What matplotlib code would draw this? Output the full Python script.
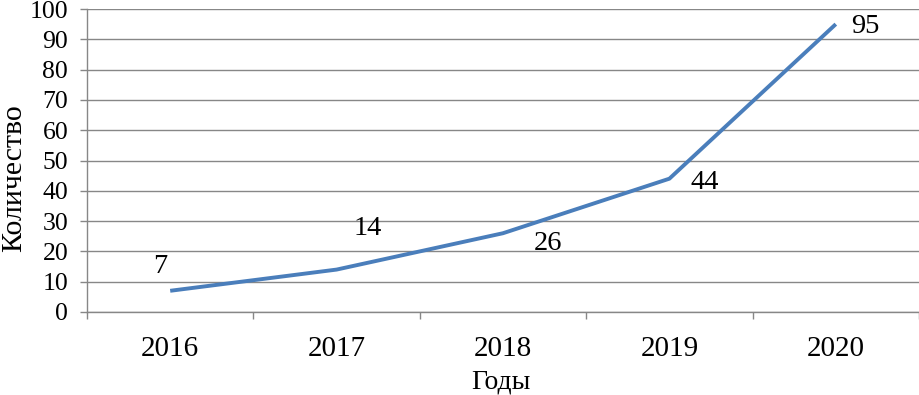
import numpy as np
import matplotlib.pyplot as plt

plt.rcParams['font.family'] = ['Liberation Serif', 'DejaVu Serif']

# Данные
years = ['2016', '2017', '2018', '2019', '2020']
counts = [7, 14, 26, 44, 95]
# смещения подписей (в пикселях) относительно точек
label_offsets = [(-10, 24), (31, 41), (45, -10), (35, -4), (30, -2)]

fig = plt.figure(figsize=(9.2, 3.95), dpi=100)
ax = fig.add_axes([87 / 920, 1 - 312 / 395, 832 / 920, 303 / 395])

grid_c = '#878787'
x = np.arange(len(years))
ax.plot(x, counts, color='#4A7EBB', lw=2.8, solid_capstyle='butt', zorder=3)

for xi, v, (dx, dy) in zip(x, counts, label_offsets):
    ax.annotate(str(v), (xi, v), xytext=(dx * 0.72, dy * 0.72),
                textcoords='offset points', ha='center', va='center', fontsize=20.5)

ax.set_xlim(-0.5, len(years) - 0.5)
ax.set_ylim(0, 100)
ax.set_yticks(np.arange(0, 101, 10))
ax.yaxis.grid(True, color=grid_c, lw=1)
ax.set_axisbelow(True)

ax.set_xticks(np.arange(-0.5, len(years), 1))
ax.set_xticklabels([])
ax.set_xticks(x, minor=True)
ax.set_xticklabels(years, minor=True, fontsize=21)
ax.tick_params(axis='x', which='minor', length=0, pad=17)
ax.tick_params(axis='x', which='major', length=5, color=grid_c, width=1)
ax.tick_params(axis='y', length=5, color=grid_c, width=1, labelsize=18.5, pad=8.5)

for s in ['top', 'right']:
    ax.spines[s].set_visible(False)
for s in ['left', 'bottom']:
    ax.spines[s].set_color(grid_c)
    ax.spines[s].set_linewidth(1)

fig.text(501 / 920, 1 - 382 / 395, 'Годы', ha='center', va='center', fontsize=20)
fig.text(14 / 920, 1 - 178 / 395, 'Количество', ha='center', va='center',
         rotation=90, fontsize=21.5)

fig.savefig('out.png', dpi=100)
